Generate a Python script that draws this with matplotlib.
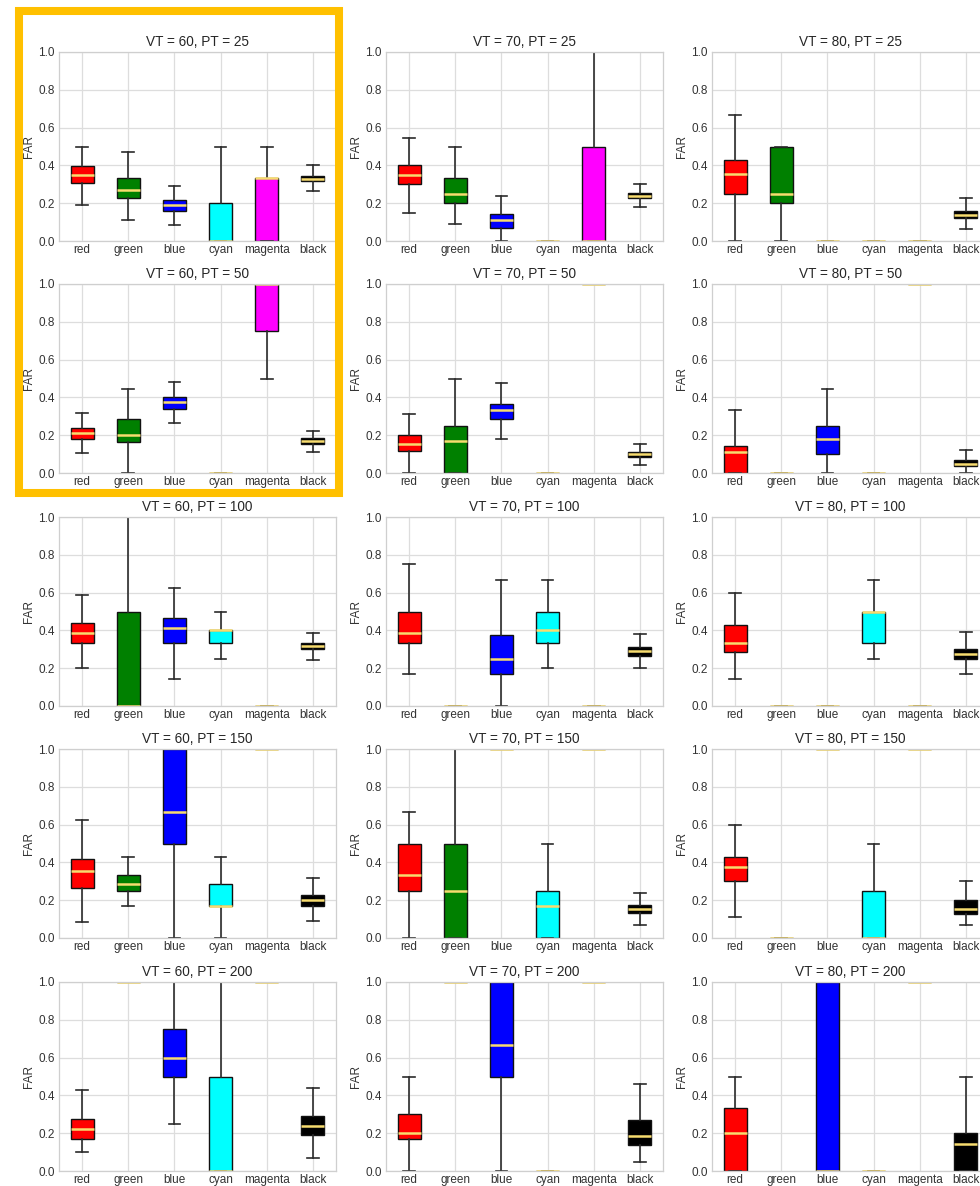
import matplotlib
matplotlib.use("Agg")
import matplotlib.pyplot as plt
from matplotlib.patches import Rectangle

plt.rcParams['font.family'] = ['Liberation Sans', 'DejaVu Sans']

categories = ["red", "green", "blue", "cyan", "magenta", "black"]
box_colors = ["red", "green", "blue", "cyan", "magenta", "black"]
vt_values = [60, 70, 80]
pt_values = [25, 50, 100, 150, 200]

# FAR summaries per category: (whisker low, q1, median, q3, whisker high); None = no data
vt60_pt25 = [(0.19, 0.305, 0.35, 0.395, 0.50), (0.11, 0.23, 0.27, 0.335, 0.47),
             (0.085, 0.16, 0.19, 0.215, 0.29), (0.0, 0.0, 0.0, 0.20, 0.50),
             (0.0, 0.0, 0.333, 0.333, 0.50), (0.265, 0.315, 0.33, 0.345, 0.40)]
vt70_pt25 = [(0.15, 0.30, 0.35, 0.40, 0.545), (0.09, 0.20, 0.25, 0.333, 0.50),
             (0.0, 0.07, 0.11, 0.145, 0.24), (0.0, 0.0, 0.0, 0.0, 0.0),
             (0.0, 0.0, 0.0, 0.50, 1.0), (0.18, 0.225, 0.24, 0.255, 0.30)]
vt80_pt25 = [(0.0, 0.25, 0.357, 0.43, 0.667), (0.0, 0.20, 0.25, 0.50, 0.50),
             (0.0, 0.0, 0.0, 0.0, 0.0), (0.0, 0.0, 0.0, 0.0, 0.0),
             (0.0, 0.0, 0.0, 0.0, 0.0), (0.063, 0.12, 0.14, 0.16, 0.225)]

vt60_pt50 = [(0.105, 0.18, 0.21, 0.24, 0.32), (0.0, 0.165, 0.20, 0.285, 0.445),
             (0.265, 0.34, 0.375, 0.40, 0.48), (0.0, 0.0, 0.0, 0.0, 0.0),
             (0.50, 0.75, 1.0, 1.0, 1.0), (0.11, 0.155, 0.17, 0.185, 0.22)]
vt70_pt50 = [(0.0, 0.115, 0.155, 0.20, 0.31), (0.0, 0.0, 0.167, 0.25, 0.50),
             (0.18, 0.285, 0.333, 0.365, 0.475), (0.0, 0.0, 0.0, 0.0, 0.0),
             (1.0, 1.0, 1.0, 1.0, 1.0), (0.04, 0.085, 0.10, 0.11, 0.155)]
vt80_pt50 = [(0.0, 0.0, 0.111, 0.143, 0.333), (0.0, 0.0, 0.0, 0.0, 0.0),
             (0.0, 0.10, 0.182, 0.25, 0.444), (0.0, 0.0, 0.0, 0.0, 0.0),
             (1.0, 1.0, 1.0, 1.0, 1.0), (0.0, 0.035, 0.045, 0.07, 0.12)]

vt60_pt100 = [(0.20, 0.333, 0.385, 0.44, 0.585), (0.0, 0.0, 0.0, 0.50, 1.0),
              (0.143, 0.333, 0.412, 0.465, 0.625), (0.25, 0.333, 0.40, 0.40, 0.50),
              (0.0, 0.0, 0.0, 0.0, 0.0), (0.245, 0.30, 0.315, 0.335, 0.385)]
vt70_pt100 = [(0.167, 0.333, 0.385, 0.50, 0.75), (0.0, 0.0, 0.0, 0.0, 0.0),
              (0.0, 0.167, 0.25, 0.375, 0.667), (0.20, 0.333, 0.40, 0.50, 0.667),
              (0.0, 0.0, 0.0, 0.0, 0.0), (0.20, 0.265, 0.29, 0.31, 0.38)]
vt80_pt100 = [(0.143, 0.286, 0.333, 0.429, 0.60), (0.0, 0.0, 0.0, 0.0, 0.0),
              (0.0, 0.0, 0.0, 0.0, 0.0), (0.25, 0.333, 0.50, 0.50, 0.667),
              (0.0, 0.0, 0.0, 0.0, 0.0), (0.167, 0.25, 0.275, 0.30, 0.39)]

vt60_pt150 = [(0.083, 0.267, 0.357, 0.417, 0.625), (0.167, 0.25, 0.286, 0.333, 0.429),
              (0.0, 0.50, 0.667, 1.0, 1.0), (0.0, 0.167, 0.167, 0.286, 0.429),
              (1.0, 1.0, 1.0, 1.0, 1.0), (0.091, 0.17, 0.20, 0.23, 0.32)]
vt70_pt150 = [(0.0, 0.25, 0.333, 0.50, 0.667), (0.0, 0.0, 0.25, 0.50, 1.0),
              (1.0, 1.0, 1.0, 1.0, 1.0), (0.0, 0.0, 0.167, 0.25, 0.50),
              (1.0, 1.0, 1.0, 1.0, 1.0), (0.07, 0.13, 0.155, 0.175, 0.24)]
vt80_pt150 = [(0.111, 0.30, 0.375, 0.43, 0.60), (0.0, 0.0, 0.0, 0.0, 0.0),
              (1.0, 1.0, 1.0, 1.0, 1.0), (0.0, 0.0, 0.0, 0.25, 0.50),
              (1.0, 1.0, 1.0, 1.0, 1.0), (0.07, 0.125, 0.155, 0.20, 0.30)]

vt60_pt200 = [(0.10, 0.167, 0.222, 0.273, 0.429), (1.0, 1.0, 1.0, 1.0, 1.0),
              (0.25, 0.50, 0.60, 0.75, 1.0), (0.0, 0.0, 0.0, 0.50, 1.0),
              (1.0, 1.0, 1.0, 1.0, 1.0), (0.07, 0.19, 0.24, 0.29, 0.44)]
vt70_pt200 = [(0.0, 0.167, 0.20, 0.30, 0.50), (1.0, 1.0, 1.0, 1.0, 1.0),
              (0.0, 0.50, 0.667, 1.0, 1.0), (0.0, 0.0, 0.0, 0.0, 0.0),
              (1.0, 1.0, 1.0, 1.0, 1.0), (0.045, 0.135, 0.185, 0.27, 0.46)]
vt80_pt200 = [(0.0, 0.0, 0.20, 0.333, 0.50), None,
              (0.0, 0.0, 0.0, 1.0, 1.0), (0.0, 0.0, 0.0, 0.0, 0.0),
              (1.0, 1.0, 1.0, 1.0, 1.0), (0.0, 0.0, 0.143, 0.20, 0.50)]

panel_stats = {
    (60, 25): vt60_pt25, (70, 25): vt70_pt25, (80, 25): vt80_pt25,
    (60, 50): vt60_pt50, (70, 50): vt70_pt50, (80, 50): vt80_pt50,
    (60, 100): vt60_pt100, (70, 100): vt70_pt100, (80, 100): vt80_pt100,
    (60, 150): vt60_pt150, (70, 150): vt70_pt150, (80, 150): vt80_pt150,
    (60, 200): vt60_pt200, (70, 200): vt70_pt200, (80, 200): vt80_pt200,
}

# Figure geometry in pixels
W, H, DPI = 980, 1186, 100
col_left = [59, 386, 712]
row_top = [52, 284, 517, 749, 982]
ax_w, ax_h = 277, 189

fig = plt.figure(figsize=(W / DPI, H / DPI), dpi=DPI)
fig.patch.set_facecolor('white')

median_color = '#F7DC6F'
text_color = '#333333'

for r, pt in enumerate(pt_values):
    for c, vt in enumerate(vt_values):
        left = col_left[c] / W
        bottom = 1 - (row_top[r] + ax_h) / H
        ax = fig.add_axes([left, bottom, ax_w / W, ax_h / H])
        ax.set_facecolor('white')

        stats, positions, faces = [], [], []
        for i, s in enumerate(panel_stats[(vt, pt)]):
            if s is None:
                continue
            lo, q1, med, q3, hi = s
            stats.append(dict(whislo=lo, q1=q1, med=med, q3=q3, whishi=hi, fliers=[]))
            positions.append(i + 1)
            faces.append(box_colors[i])

        bp = ax.bxp(stats, positions=positions, widths=0.5, patch_artist=True,
                    showfliers=False,
                    boxprops=dict(edgecolor='#111111', linewidth=1.0),
                    whiskerprops=dict(color='#2b2b2b', linewidth=1.2),
                    capprops=dict(color='#2b2b2b', linewidth=1.2),
                    medianprops=dict(color=median_color, linewidth=1.8))
        for patch, fc in zip(bp['boxes'], faces):
            patch.set_facecolor(fc)

        ax.set_xlim(0.5, 6.5)
        ax.set_ylim(0.0, 1.0)
        ax.set_xticks(range(1, len(categories) + 1))
        ax.set_xticklabels(categories)
        ax.set_yticks([0.0, 0.2, 0.4, 0.6, 0.8, 1.0])
        ax.set_yticklabels([f"{v:.1f}" for v in [0.0, 0.2, 0.4, 0.6, 0.8, 1.0]])
        ax.set_axisbelow(True)
        ax.grid(True, color='#dddddd', linewidth=0.9)
        for sp in ax.spines.values():
            sp.set_color('#cfcfcf')
            sp.set_linewidth(0.9)
        ax.tick_params(length=0, labelsize=8.5, colors=text_color)
        ax.tick_params(axis='x', pad=2.5)
        ax.tick_params(axis='y', pad=3)
        ax.set_ylabel("FAR", fontsize=8.5, color=text_color, labelpad=2.5)
        ax.set_title(f"VT = {vt}, PT = {pt}", fontsize=9.8, color='#262626', pad=4)

# Highlight frame around the first column's top two panels
frame = Rectangle((19 / W, 1 - 493 / H), (339 - 19) / W, (493 - 11) / H,
                  transform=fig.transFigure, fill=False,
                  edgecolor='#FFC000', linewidth=5.8, zorder=10)
fig.add_artist(frame)

fig.savefig("out.png", dpi=DPI, facecolor='white')
